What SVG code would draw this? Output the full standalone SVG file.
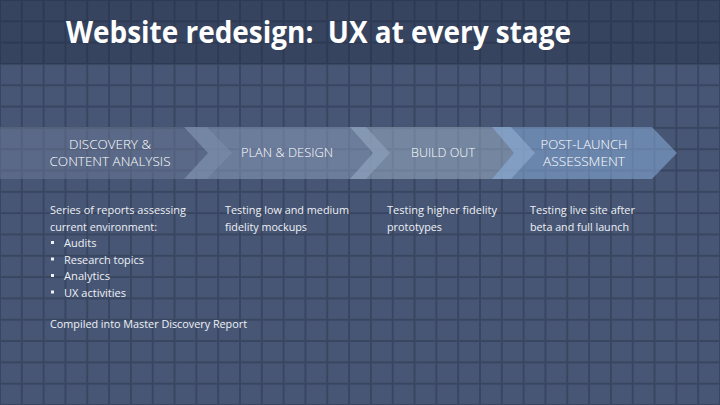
<svg xmlns="http://www.w3.org/2000/svg" width="720" height="405" viewBox="0 0 720 405">
  <defs>
    <pattern id="grid" x="-1" y="-1" width="21.818" height="21.316" patternUnits="userSpaceOnUse">
      <rect x="0" y="0" width="2" height="21.316" fill="#1e283c" fill-opacity="0.35"/>
      <rect x="2" y="0" width="19.818" height="2" fill="#1e283c" fill-opacity="0.35"/>
    </pattern>
  </defs>
  <style>
    .title { font-family: "Open Sans", "DejaVu Sans", sans-serif; font-weight: 700; font-size: 31px; fill: #ffffff; white-space: pre; }
    .lbl { font-family: "Open Sans", "Liberation Sans", sans-serif; font-weight: 300; font-size: 13px; fill: #ffffff; text-anchor: middle; }
    .body { font-family: "Open Sans", "Liberation Sans", sans-serif; font-size: 11px; fill: #eef1f6; }
  </style>
  <rect width="720" height="405" fill="#475674"/>
  <rect width="720" height="64" fill="#36445f"/>
  <rect width="720" height="405" fill="url(#grid)"/>
  <text class="title" x="66" y="43" textLength="505" lengthAdjust="spacingAndGlyphs" xml:space="preserve">Website redesign:  UX at every stage</text>

  <g id="connectors"></g>

  <g id="stage1">
    <polygon points="-5,127 207,127 232,153 207,179 -5,179" fill="#6d7c9a" fill-opacity="0.5"/>
    <text class="lbl" x="110" y="149" textLength="82" lengthAdjust="spacingAndGlyphs">DISCOVERY &amp;</text>
    <text class="lbl" x="110" y="166" textLength="121" lengthAdjust="spacingAndGlyphs">CONTENT ANALYSIS</text>
  </g>
  <g id="stage2">
    <polygon points="184,127 366,127 390,153 366,179 184,179 208,153" fill="#8da0c0" fill-opacity="0.52"/>
    <text class="lbl" x="287" y="157" textLength="92" lengthAdjust="spacingAndGlyphs">PLAN &amp; DESIGN</text>
  </g>
  <g id="stage3">
    <polygon points="350,127 511,127 535,153 511,179 350,179 373,153" fill="#9db2ca" fill-opacity="0.52"/>
    <text class="lbl" x="443" y="157" textLength="64" lengthAdjust="spacingAndGlyphs">BUILD OUT</text>
  </g>
  <g id="stage4">
    <polygon points="492,127 652,127 677,153 652,179 492,179 514,153" fill="#8fb6e6" fill-opacity="0.5"/>
    <text class="lbl" x="584" y="149" textLength="87" lengthAdjust="spacingAndGlyphs">POST-LAUNCH</text>
    <text class="lbl" x="584" y="166" textLength="82" lengthAdjust="spacingAndGlyphs">ASSESSMENT</text>
  </g>

  <g id="desc1">
    <text class="body" x="50" y="214" textLength="136" lengthAdjust="spacingAndGlyphs">Series of reports assessing</text>
    <text class="body" x="50" y="230.5" textLength="107" lengthAdjust="spacingAndGlyphs">current environment:</text>
    <rect x="51" y="241" width="3" height="3" fill="#eef1f6"/>
    <text class="body" x="64" y="247">Audits</text>
    <rect x="51" y="257.5" width="3" height="3" fill="#eef1f6"/>
    <text class="body" x="64" y="263.5" textLength="80" lengthAdjust="spacingAndGlyphs">Research topics</text>
    <rect x="51" y="274" width="3" height="3" fill="#eef1f6"/>
    <text class="body" x="64" y="280" textLength="46" lengthAdjust="spacingAndGlyphs">Analytics</text>
    <rect x="51" y="290.5" width="3" height="3" fill="#eef1f6"/>
    <text class="body" x="64" y="296.5" textLength="62" lengthAdjust="spacingAndGlyphs">UX activities</text>
    <text class="body" x="50" y="328" textLength="197" lengthAdjust="spacingAndGlyphs">Compiled into Master Discovery Report</text>
  </g>
  <g id="desc2">
    <text class="body" x="225" y="214" textLength="124" lengthAdjust="spacingAndGlyphs">Testing low and medium</text>
    <text class="body" x="225" y="230.5" textLength="82" lengthAdjust="spacingAndGlyphs">fidelity mockups</text>
  </g>
  <g id="desc3">
    <text class="body" x="387" y="214" textLength="110" lengthAdjust="spacingAndGlyphs">Testing higher fidelity</text>
    <text class="body" x="387" y="230.5" textLength="55" lengthAdjust="spacingAndGlyphs">prototypes</text>
  </g>
  <g id="desc4">
    <text class="body" x="530" y="214" textLength="105" lengthAdjust="spacingAndGlyphs">Testing live site after</text>
    <text class="body" x="530" y="230.5" textLength="99" lengthAdjust="spacingAndGlyphs">beta and full launch</text>
  </g>
</svg>
